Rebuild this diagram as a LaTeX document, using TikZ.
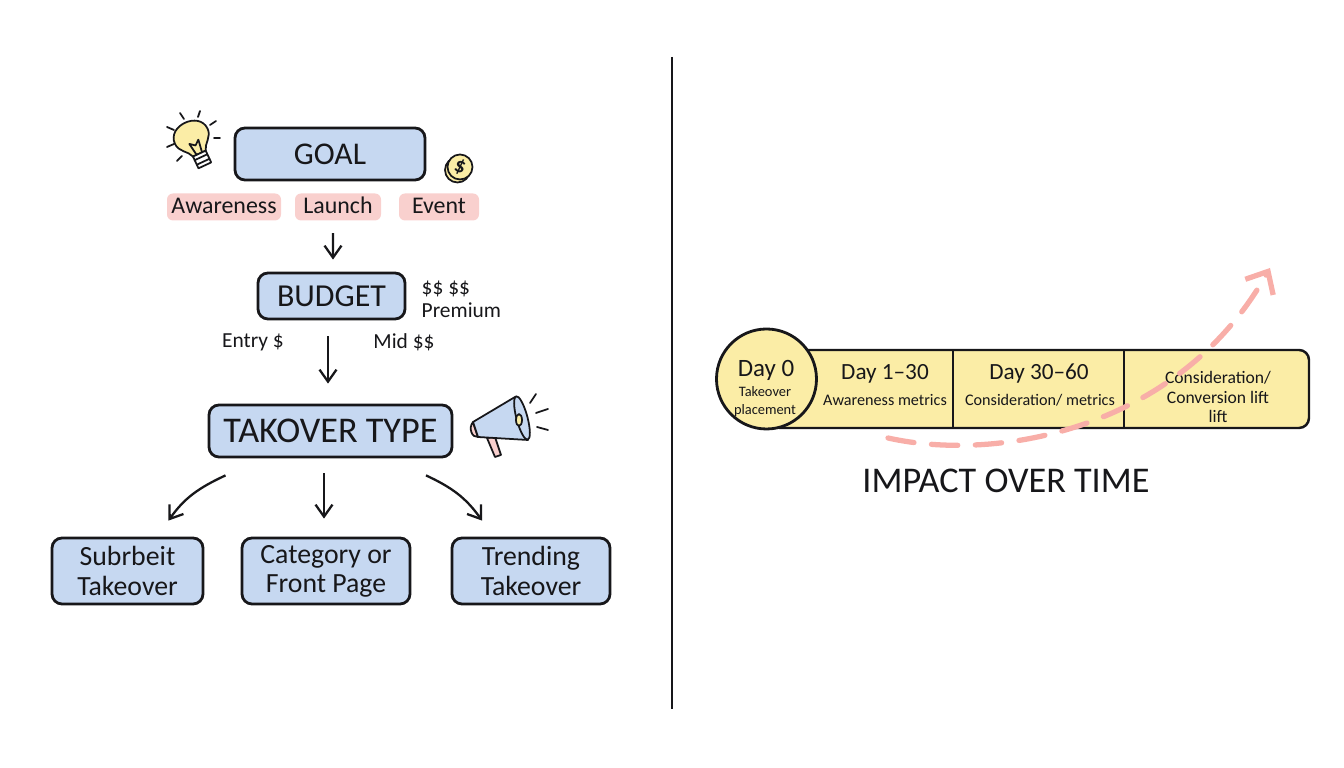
\documentclass[tikz,border=0pt]{standalone}
\usepackage{fontspec}
\setmainfont{Carlito}
\usetikzlibrary{arrows.meta}
\definecolor{boxblue}{HTML}{C6D8F1}
\definecolor{tagpink}{HTML}{F9D0CE}
\definecolor{dayyellow}{HTML}{FBEDA6}
\definecolor{trendpink}{HTML}{F8AEA8}
\definecolor{inkblack}{HTML}{17171A}
\tikzset{
    >={Straight Barb[length=1.2mm,width=1.7mm]},
    bluebox/.style={draw=inkblack,line width=0.8pt,fill=boxblue,rounded corners=1mm,inner sep=0pt,text=inkblack,align=center},
    tagbox/.style={fill=tagpink,rounded corners=0.6mm,inner sep=0pt,minimum height=0.27cm,text height=1.6mm,text depth=0.2mm,text=inkblack,font=\fontsize{6.8}{8}\selectfont},
    note/.style={inner sep=0pt,text=inkblack,align=left,font=\fontsize{6.1}{6.6}\selectfont},
    flow/.style={->,draw=inkblack,line width=0.65pt},
    ink/.style={draw=inkblack,line width=0.5pt,line cap=round,line join=round},
    daytitle/.style={inner sep=0pt,text=inkblack,font=\fontsize{6.6}{8}\selectfont},
    daytext/.style={inner sep=0pt,text=inkblack,align=center,font=\fontsize{4.6}{5.2}\selectfont},
    choicebox/.style={bluebox,minimum height=0.66cm,font=\fontsize{7.9}{8.3}\selectfont},
}

\begin{document}
\begin{tikzpicture}
            \useasboundingbox (0,0) rectangle (13.44,7.68);
            % left side: goal, budget, type
            \node[bluebox,minimum width=1.9cm,minimum height=0.52cm,font=\fontsize{9}{12}\selectfont] at (3.30,6.14) (goal) {GOAL};
            \node[tagbox,minimum width=1.14cm] at (2.24,5.61) (awareness) {Awareness};
            \node[tagbox,minimum width=0.86cm] at (3.38,5.61) (launch) {Launch};
            \node[tagbox,minimum width=0.80cm] at (4.39,5.61) (event) {Event};
            \node[bluebox,minimum width=1.47cm,minimum height=0.46cm,font=\fontsize{9.1}{12}\selectfont] at (3.315,4.72) (budget) {BUDGET};
            \node[note,anchor=west] at (4.21,4.69) (premium) {\$\$ \$\$\\Premium};
            \node[note] at (2.53,4.26) (entry) {Entry \$};
            \node[note] at (4.04,4.26) (mid) {Mid \$\$};
            \node[bluebox,minimum width=2.43cm,minimum height=0.52cm,font=\fontsize{10.3}{12}\selectfont] at (3.305,3.37) (type) {TAKOVER TYPE};
            \node[choicebox,minimum width=1.51cm] at (1.275,1.97) (subreddit) {Subrbeit\\Takeover};
            \node[choicebox,minimum width=1.68cm] at (3.26,1.97) (category) {Category or\\Front Page};
            \node[choicebox,minimum width=1.58cm] at (5.31,1.97) (trending) {Trending\\Takeover};
            \draw[flow,shorten <=0.12cm,shorten >=0.12cm] ([xshift=-0.05cm]launch.south) to ([xshift=0.015cm]budget.north);
            \draw[flow,shorten <=0.16cm,shorten >=0.2cm] ([xshift=-0.035cm]budget.south) to ([xshift=-0.025cm]type.north);
            \draw[flow] ([xshift=-1.05cm,yshift=-0.17cm]type.south) to [out=205,in=55] ([xshift=0.41cm,yshift=0.16cm]subreddit.north);
            \draw[flow,shorten <=0.15cm,shorten >=0.18cm] ([xshift=-0.065cm]type.south) to ([xshift=-0.02cm]category.north);
            \draw[flow] ([xshift=0.955cm,yshift=-0.17cm]type.south) to [out=-25,in=125] ([xshift=-0.49cm,yshift=0.16cm]trending.north);
            % divider
            \coordinate (top) at (6.72,7.11);
            \coordinate (bottom) at (6.72,0.59);
            \draw[draw=inkblack,line width=0.6pt] (top) to (bottom);
            % timeline
            \draw[draw=inkblack,line width=0.7pt,fill=dayyellow,rounded corners=1mm] (7.7,3.40) rectangle (13.09,4.18);
            \draw[draw=inkblack,line width=0.6pt] (9.53,4.18) to (9.53,3.40);
            \draw[draw=inkblack,line width=0.6pt] (11.24,4.18) to (11.24,3.40);
            \node[draw=inkblack,line width=0.8pt,fill=dayyellow,circle,minimum size=1cm,inner sep=0pt] at (7.665,3.89) (zero) {};
            \node[daytitle,font=\fontsize{7.1}{8}\selectfont] at (7.66,3.98) (dayzero) {Day 0};
            \node[daytext,font=\fontsize{4.1}{5.1}\selectfont] at (7.65,3.66) (placement) {Takeover\\placement};
            \node[daytitle] at (8.85,3.94) (dayone) {Day 1--30};
            \node[daytext] at (8.85,3.68) (awaremetrics) {Awareness metrics};
            \node[daytitle] at (10.39,3.94) (daythirty) {Day 30--60};
            \node[daytext] at (10.40,3.68) (considmetrics) {Consideration/ metrics};
            \node[daytext,font=\fontsize{5}{5.5}\selectfont] at (12.18,3.71) (lift) {Consideration/\\Conversion lift\\lift};
            \node[inner sep=0pt,text=inkblack,font=\fontsize{10.3}{12}\selectfont] at (10.06,2.87) (impact) {IMPACT OVER TIME};
            % rising curve
            \coordinate (rise) at (8.88,3.30);
            \coordinate (peak) at (12.70,5.00);
            \draw[->,draw=trendpink,line width=1.5pt,line cap=round,dash pattern=on 7.5pt off 5pt,>={Straight Barb[length=1.8mm,width=3.2mm]}] (rise) .. controls (10.0,3.05) and (11.8,3.4) .. (peak);
            % bulb
            \begin{scope}[shift={(1.93,6.28)},rotate=25]
                \draw[ink,fill=dayyellow] (-0.07,-0.15) .. controls (-0.09,-0.08) and (-0.18,-0.05) .. (-0.18,0.04) .. controls (-0.18,0.24) and (0.18,0.24) .. (0.18,0.04) .. controls (0.18,-0.05) and (0.09,-0.08) .. (0.07,-0.15) -- cycle;
                \draw[ink] (-0.03,-0.15) -- (-0.05,-0.02) -- (0.0,-0.06) -- (0.05,-0.02) -- (0.03,-0.15);
                \draw[ink,fill=white] (-0.07,-0.15) rectangle (0.07,-0.28);
                \draw[ink] (-0.07,-0.19) -- (0.07,-0.19);
                \draw[ink] (-0.07,-0.24) -- (0.07,-0.24);
            \end{scope}
            \foreach \xa/\ya/\xb/\yb in {1.80/6.55/1.84/6.49,2.00/6.57/1.98/6.51,2.16/6.47/2.10/6.43,2.20/6.30/2.14/6.30,1.67/6.41/1.74/6.38,1.67/6.21/1.74/6.24,1.77/6.07/1.82/6.12}
                \draw[ink] (\xa,\ya) -- (\xb,\yb);
            % coin
            \draw[ink,fill=dayyellow] (4.575,5.98) circle (0.125);
            \draw[ink,fill=dayyellow] (4.60,6.01) circle (0.125);
            \node[inner sep=0pt,rotate=-20,text=inkblack,font=\fontsize{6}{7}\selectfont\bfseries] at (4.60,6.01) (dollar) {\$};
            % megaphone
            \draw[ink,fill=tagpink] (4.87,3.30) -- (4.95,3.11) -- (5.01,3.13) -- (4.95,3.31) -- cycle;
            \draw[ink,fill=tagpink] (4.73,3.46) .. controls (4.68,3.40) and (4.72,3.30) .. (4.78,3.31) -- cycle;
            \draw[ink,fill=boxblue] (4.73,3.46) -- (5.15,3.71) -- (5.28,3.28) -- (4.78,3.31) -- cycle;
            \draw[ink,fill=boxblue,rotate around={15:(5.22,3.50)}] (5.22,3.50) ellipse (0.055 and 0.225);
            \draw[ink,fill=dayyellow] (5.19,3.48) ellipse (0.03 and 0.06);
            \draw[ink] (5.30,3.65) -- (5.36,3.74);
            \draw[ink] (5.36,3.55) -- (5.48,3.59);
            \draw[ink] (5.37,3.41) -- (5.48,3.38);
        \end{tikzpicture}
\end{document}
